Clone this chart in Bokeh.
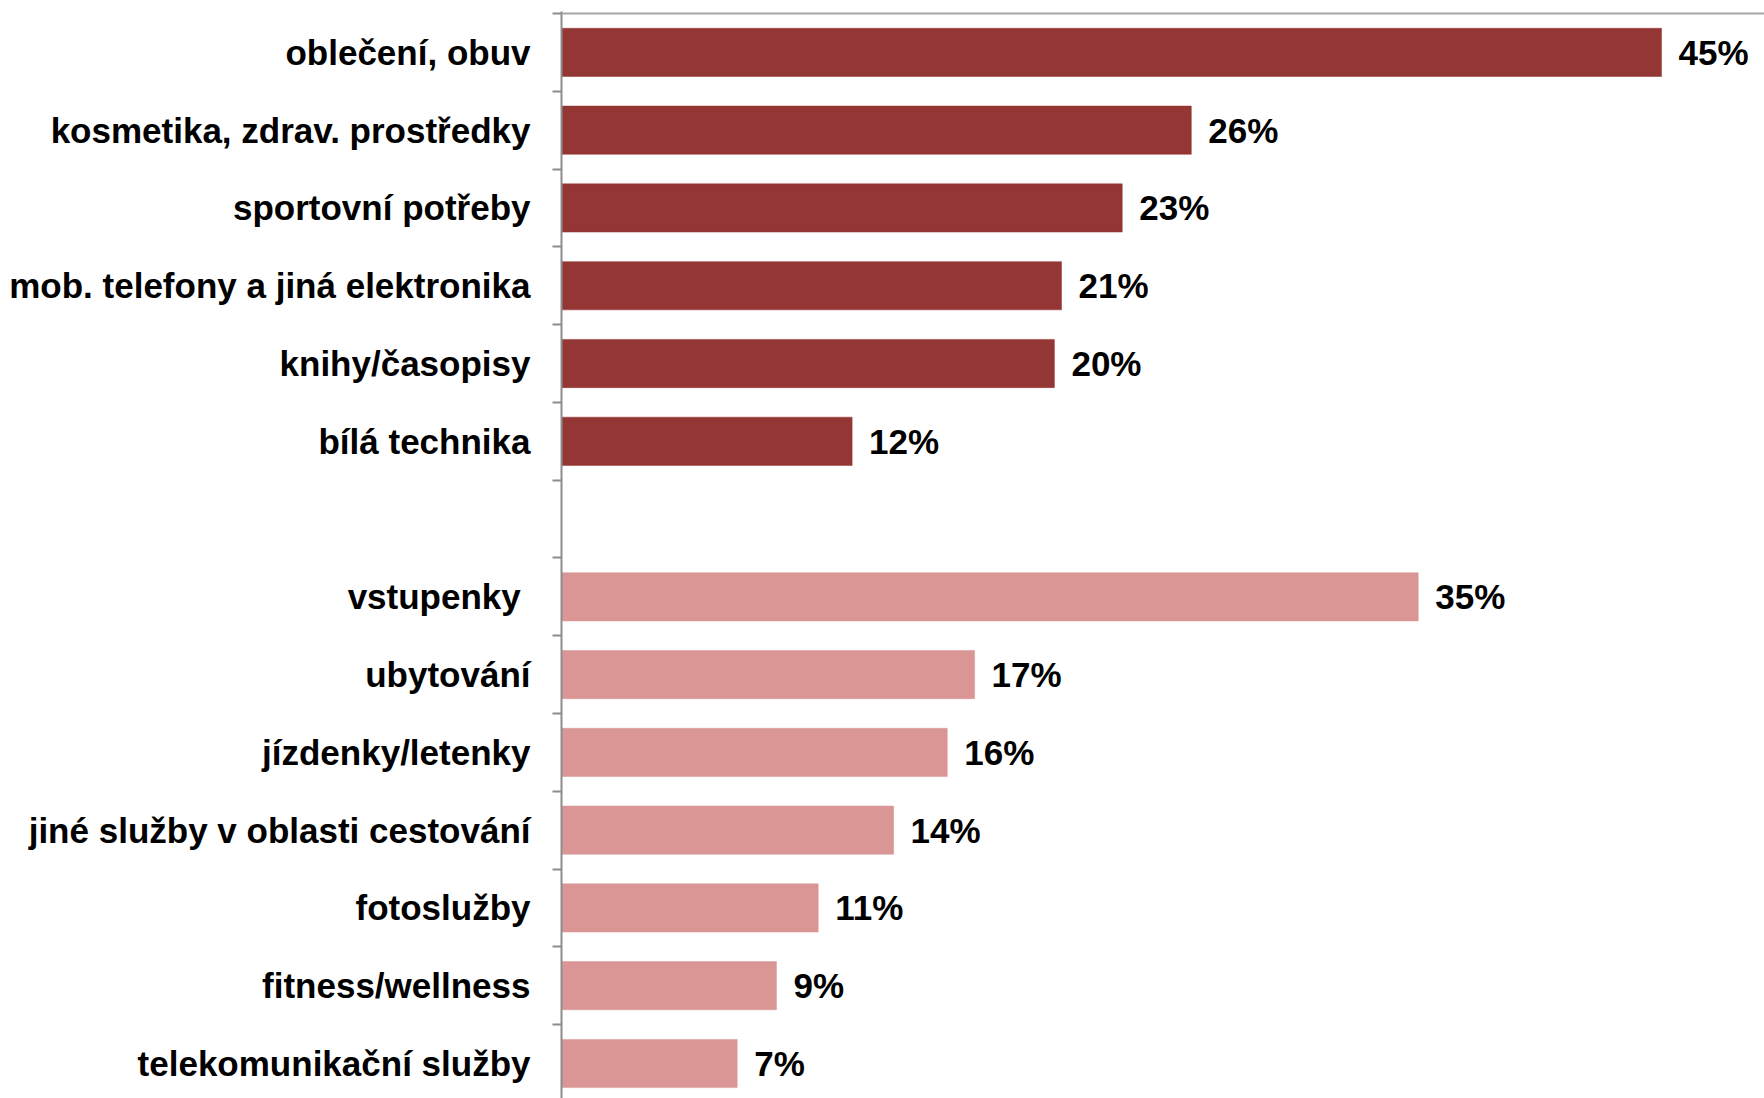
from bokeh.plotting import figure
from bokeh.models import ColumnDataSource, Range1d, FixedTicker, Span
from bokeh.core.properties import value
from bokeh.embed import file_html
from bokeh.resources import INLINE

# Data (top to bottom) -- bar lengths, printed labels as shown
goods = ["oblečení, obuv", "kosmetika, zdrav. prostředky", "sportovní potřeby",
         "mob. telefony a jiná elektronika", "knihy/časopisy", "bílá technika"]
goods_vals = [45.08, 25.81, 22.98, 20.49, 20.2, 11.91]
goods_labels = ["45%", "26%", "23%", "21%", "20%", "12%"]
services = ["vstupenky ", "ubytování", "jízdenky/letenky", "jiné služby v oblasti cestování",
            "fotoslužby", "fitness/wellness", "telekomunikační služby"]
services_vals = [35.11, 16.93, 15.81, 13.61, 10.52, 8.81, 7.2]
services_labels = ["35%", "17%", "16%", "14%", "11%", "9%", "7%"]

DARK = "#943634"
LIGHT = "#D99694"
FONT = "Liberation Sans"

# positions: goods 0..5, gap at 6, services 7..13
goods_pos = list(range(len(goods)))
services_pos = [len(goods) + 1 + i for i in range(len(services))]

src_g = ColumnDataSource(dict(y=goods_pos, v=goods_vals, lab=goods_labels))
src_s = ColumnDataSource(dict(y=services_pos, v=services_vals, lab=services_labels))

n_slots = len(goods) + 1 + len(services)

p = figure(width=1764, height=1098, output_backend="svg", toolbar_location=None,
           x_axis_location=None, y_range=Range1d(13.45, -0.526), x_range=Range1d(0, 49.3),
           min_border_left=561, min_border_right=0, min_border_top=11, min_border_bottom=0)
p.outline_line_color = None
p.xgrid.visible = False
p.ygrid.visible = False
p.background_fill_color = "white"
p.border_fill_color = "white"

bar_h = 0.62
p.hbar(y="y", right="v", left=0, height=bar_h, source=src_g, fill_color=DARK, line_color=DARK, line_width=0.5)
p.hbar(y="y", right="v", left=0, height=bar_h, source=src_s, fill_color=LIGHT, line_color=LIGHT, line_width=0.5)

for src in (src_g, src_s):
    p.text(x="v", y="y", text="lab", source=src, x_offset=17, text_align="left", text_baseline="middle",
           text_font=value(FONT), text_font_size="35px", text_font_style="bold", text_color="black")

# top border line
p.add_layout(Span(location=-0.5, dimension="width", line_color="#A6A6A6", line_width=2))

ax = p.yaxis[0]
centers = goods_pos + services_pos
bounds = [i - 0.5 for i in range(n_slots + 1)]
ax.ticker = FixedTicker(ticks=centers, minor_ticks=bounds)
ax.major_label_overrides = {pos: lab for pos, lab in zip(goods_pos + services_pos, goods + services)}
ax.major_tick_out = 0
ax.major_tick_in = 0
ax.minor_tick_out = 9
ax.minor_tick_in = 0
ax.minor_tick_line_color = "#8C8C8C"
ax.minor_tick_line_width = 2
ax.axis_line_color = "#8C8C8C"
ax.axis_line_width = 2
ax.major_label_standoff = 22
ax.major_label_text_font = FONT
ax.major_label_text_font_size = "35px"
ax.major_label_text_font_style = "bold"
ax.major_label_text_color = "black"

open("out.html", "w").write(file_html(p, INLINE))
